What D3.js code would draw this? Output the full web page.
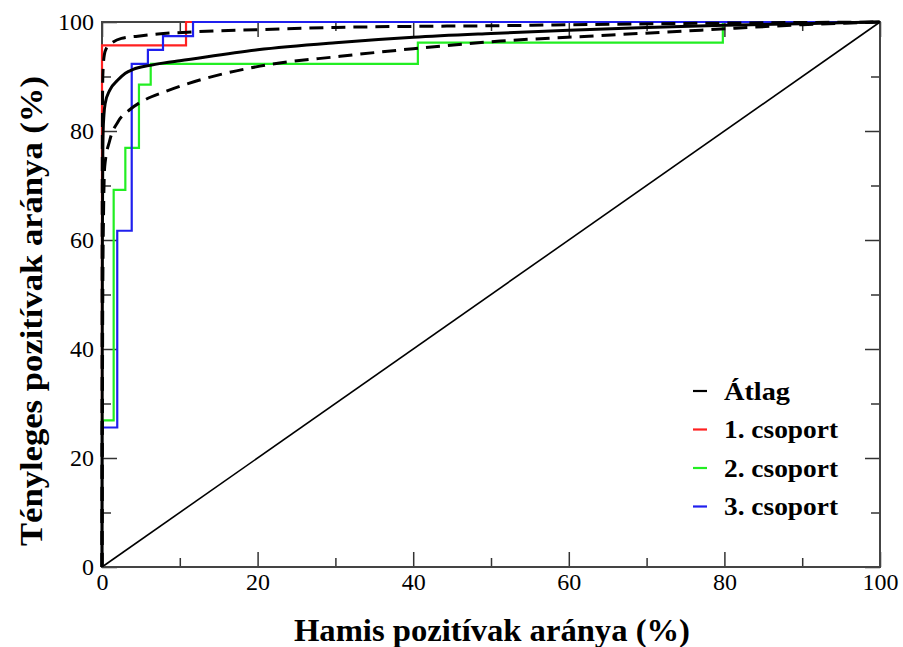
<!DOCTYPE html>
<html>
<head>
<meta charset="utf-8">
<script src="https://cdn.jsdelivr.net/npm/d3@7"></script>
<style>
  body { margin: 0; background: #fff; }
  svg { display: block; }
  svg text { font-family: "Liberation Serif", Tinos, "Nimbus Roman", "Times New Roman", "DejaVu Serif", serif; }
</style>
</head>
<body>
<svg id="chart" width="903" height="647"></svg>
<script>
// ---------- data ----------
const xMajorTicks = [0, 20, 40, 60, 80, 100];
const yMajorTicks = [0, 20, 40, 60, 80, 100];
const minorTicks = [10, 30, 50, 70, 90];

const legendLabels = ["Átlag", "1. csoport", "2. csoport", "3. csoport"];
const legendColors = ["#000000", "#ff2020", "#22ee22", "#2020ee"];

// Group 1 (red) step ROC
const g1Fpr = [0, 0, 10.8, 100];
const g1Tpr = [0, 95.7, 100, 100];
// Group 2 (green) step ROC
const g2Fpr = [0, 0, 1.5, 3.0, 4.75, 6.26, 40.6, 79.8, 100];
const g2Tpr = [0, 26.9, 69.2, 76.9, 88.5, 92.3, 96.2, 100, 100];
// Group 3 (blue) step ROC
const g3Fpr = [0, 0, 1.96, 3.82, 5.9, 7.84, 11.7, 100];
const g3Tpr = [0, 25.6, 61.7, 92.3, 94.9, 97.4, 100, 100];

// Average (solid) and confidence band (dashed)
const avgFpr = [0, 0.05, 0.1, 0.15, 0.25, 0.4, 1, 2, 3, 4, 6, 8, 10, 20, 30, 40, 50, 60, 70, 80, 90, 100];
const avgTpr = [0, 60, 75, 80, 83, 85, 87.5, 89.3, 90.6, 91.3, 92.0, 92.5, 92.9, 94.9, 96.2, 97.2, 97.9, 98.5, 99.0, 99.4, 99.7, 100];
const upFpr = [0, 0.03, 0.1, 0.3, 0.6, 1.2, 2.5, 4.6, 7.2, 12, 20, 30, 40, 50, 60, 80, 100];
const upTpr = [0, 70, 90, 94, 95.3, 96.1, 97.0, 97.4, 97.8, 98.2, 98.6, 99.0, 99.2, 99.3, 99.5, 99.8, 100];
const loFpr = [0, 0.1, 0.2, 0.35, 1, 2.06, 3.56, 5.49, 8.06, 10, 20.3, 30.6, 40, 51.2, 64, 77, 90, 100];
const loTpr = [0, 50, 65, 73.5, 78.3, 81.7, 83.9, 85.7, 87.2, 88.2, 91.9, 93.7, 95.1, 96.5, 97.5, 98.5, 99.5, 100];

// ---------- drawing ----------
const svg = d3.select("#chart");
const x = d3.scaleLinear().domain([0, 100]).range([102, 880]);
const y = d3.scaleLinear().domain([0, 100]).range([567, 22]);

const zip = (a, b) => a.map((v, i) => [v, b[i]]);

// diagonal
svg.append("path")
  .datum([[0, 0], [100, 100]])
  .attr("d", d3.line().x(d => x(d[0])).y(d => y(d[1])))
  .attr("fill", "none").attr("stroke", "#000").attr("stroke-width", 1.6);

// axes with inward ticks
function styleAxis(g) {
  g.attr("font-family", null);
  g.select(".domain").remove();
  g.selectAll(".tick line").attr("stroke", "#333").attr("stroke-width", 1.5);
  g.selectAll("text").attr("font-size", 24).attr("fill", "#000");
}
svg.append("g").attr("transform", `translate(0,${y(0)})`)
  .call(d3.axisBottom(x).tickValues(xMajorTicks).tickSize(-15).tickPadding(6).tickFormat(d3.format("d")))
  .call(styleAxis);
svg.append("g").attr("transform", `translate(0,${y(0)})`)
  .call(d3.axisBottom(x).tickValues(minorTicks).tickSize(-9).tickFormat(""))
  .call(styleAxis);
svg.append("g").attr("transform", `translate(0,${y(100)})`)
  .call(d3.axisTop(x).tickValues(xMajorTicks).tickSize(-15).tickFormat(""))
  .call(styleAxis);
svg.append("g").attr("transform", `translate(0,${y(100)})`)
  .call(d3.axisTop(x).tickValues(minorTicks).tickSize(-9).tickFormat(""))
  .call(styleAxis);
svg.append("g").attr("transform", `translate(${x(0)},0)`)
  .call(d3.axisLeft(y).tickValues(yMajorTicks).tickSize(-15).tickPadding(8).tickFormat(d3.format("d")))
  .call(styleAxis);
svg.append("g").attr("transform", `translate(${x(0)},0)`)
  .call(d3.axisLeft(y).tickValues(minorTicks).tickSize(-9).tickFormat(""))
  .call(styleAxis);
svg.append("g").attr("transform", `translate(${x(100)},0)`)
  .call(d3.axisRight(y).tickValues(yMajorTicks).tickSize(-15).tickFormat(""))
  .call(styleAxis);
svg.append("g").attr("transform", `translate(${x(100)},0)`)
  .call(d3.axisRight(y).tickValues(minorTicks).tickSize(-9).tickFormat(""))
  .call(styleAxis);

// frame
svg.append("rect")
  .attr("x", x(0)).attr("y", y(100))
  .attr("width", x(100) - x(0)).attr("height", y(0) - y(100))
  .attr("fill", "none").attr("stroke", "#444").attr("stroke-width", 2);

// step ROC curves
const stepLine = d3.line().x(d => x(d[0])).y(d => y(d[1])).curve(d3.curveStepAfter);
[[g1Fpr, g1Tpr, legendColors[1]], [g2Fpr, g2Tpr, legendColors[2]], [g3Fpr, g3Tpr, legendColors[3]]]
  .forEach(([fx, ty, c]) => {
    svg.append("path").datum(zip(fx, ty))
      .attr("d", stepLine)
      .attr("fill", "none").attr("stroke", c).attr("stroke-width", 2.2);
  });

// smooth curves
const smooth = d3.line().x(d => x(d[0])).y(d => y(d[1])).curve(d3.curveMonotoneX);
[[loFpr, loTpr, "14,8"], [upFpr, upTpr, "14,8"], [avgFpr, avgTpr, null]].forEach(([fx, ty, dash]) => {
  svg.append("path").datum(zip(fx, ty))
    .attr("d", smooth)
    .attr("fill", "none").attr("stroke", "#000").attr("stroke-width", 3)
    .attr("stroke-dasharray", dash);
});

// legend
const leg = svg.append("g");
const legendWidths = [66, 114, 114, 114];
legendLabels.forEach((lab, i) => {
  const ly = 391 + i * 38.5;
  leg.append("line").attr("x1", 693).attr("x2", 707).attr("y1", ly).attr("y2", ly)
    .attr("stroke", legendColors[i]).attr("stroke-width", 2.2);
  leg.append("text").attr("x", 724).attr("y", ly).attr("dy", "0.35em")
    .attr("font-weight", "bold").attr("font-size", 25)
    .attr("textLength", legendWidths[i]).attr("lengthAdjust", "spacingAndGlyphs")
    .text(lab);
});

// axis titles
svg.append("text")
  .attr("x", 492).attr("y", 641)
  .attr("text-anchor", "middle")
  .attr("font-weight", "bold").attr("font-size", 31)
  .attr("textLength", 396).attr("lengthAdjust", "spacingAndGlyphs")
  .text("Hamis pozitívak aránya (%)");
svg.append("text")
  .attr("transform", "translate(42,311) rotate(-90)")
  .attr("text-anchor", "middle")
  .attr("font-weight", "bold").attr("font-size", 31)
  .attr("textLength", 470).attr("lengthAdjust", "spacingAndGlyphs")
  .text("Tényleges pozitívak aránya (%)");
</script>
</body>
</html>
